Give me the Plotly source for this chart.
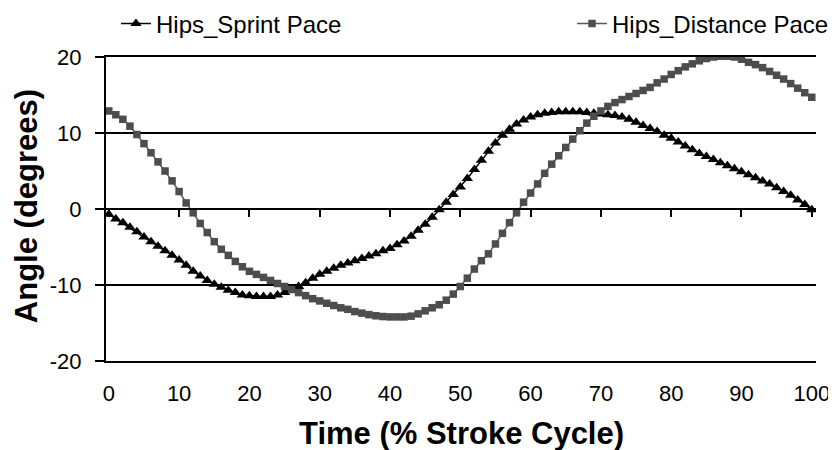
import plotly.graph_objects as go

time_pct = list(range(0, 101))

sprint_pace = [
    -0.7, -1.3, -1.8, -2.4, -3.0, -3.7, -4.3, -4.9, -5.5, -6.1,
    -6.7, -7.4, -8.2, -8.8, -9.4, -9.9, -10.3, -10.7, -11.0, -11.3,
    -11.4, -11.5, -11.5, -11.5, -11.3, -11.0, -10.6, -10.2, -9.7, -9.1,
    -8.6, -8.2, -7.8, -7.4, -7.1, -6.8, -6.5, -6.2, -5.9, -5.5,
    -5.2, -4.7, -4.2, -3.6, -2.8, -2.0, -1.1, -0.1, 0.9, 1.9,
    2.9, 4.0, 5.2, 6.4, 7.6, 8.7, 9.7, 10.5, 11.2, 11.7,
    12.1, 12.4, 12.6, 12.7, 12.8, 12.8, 12.8, 12.8, 12.7, 12.6,
    12.5, 12.4, 12.3, 12.1, 11.8, 11.4, 11.0, 10.6, 10.2, 9.7,
    9.3, 8.8, 8.3, 7.8, 7.3, 6.9, 6.5, 6.1, 5.7, 5.3,
    4.9, 4.5, 4.1, 3.7, 3.3, 2.8, 2.3, 1.8, 1.2, 0.6,
    -0.1,
]

distance_pace = [
    12.9, 12.4, 11.8, 10.9, 9.8, 8.6, 7.4, 6.2, 5.0, 3.7,
    2.3, 0.8, -0.5, -1.9, -3.1, -4.3, -5.3, -6.1, -6.9, -7.6,
    -8.2, -8.6, -9.0, -9.4, -9.8, -10.2, -10.6, -11.0, -11.4, -11.8,
    -12.1, -12.4, -12.7, -13.0, -13.2, -13.5, -13.7, -13.9, -14.05, -14.15,
    -14.2, -14.2, -14.2, -14.1, -13.8, -13.4, -13.0, -12.6, -12.0, -11.2,
    -10.2, -9.1, -7.9, -6.8, -5.9, -4.6, -3.2, -1.8, -0.5, 0.9,
    2.1, 3.3, 4.7, 5.9, 7.0, 8.1, 9.2, 10.3, 11.3, 12.2,
    12.9, 13.5, 14.0, 14.4, 14.8, 15.2, 15.6, 16.0, 16.6, 17.1,
    17.7, 18.2, 18.7, 19.1, 19.5, 19.8, 20.0, 20.1, 20.1, 20.0,
    19.7, 19.3, 19.0, 18.6, 18.1, 17.6, 17.1, 16.5, 15.9, 15.3,
    14.7,
]

x_ticks = [0, 10, 20, 30, 40, 50, 60, 70, 80, 90, 100]
y_ticks = [-20, -10, 0, 10, 20]
y_tick_labels = ["-20", "-10", "0", "10", "20"]

FONT = "Arial, Liberation Sans, sans-serif"

fig = go.Figure()
fig.add_trace(go.Scatter(
    x=time_pct, y=sprint_pace, name="Hips_Sprint Pace",
    mode="lines+markers", xaxis="x", yaxis="y", legend="legend",
    showlegend=True,
    line=dict(color="black", width=1.5),
    marker=dict(symbol="triangle-up", size=10, color="black"),
))
fig.add_trace(go.Scatter(
    x=time_pct, y=distance_pace, name="Hips_Distance Pace",
    mode="lines+markers", xaxis="x2", yaxis="y", legend="legend2",
    showlegend=True,
    line=dict(color="#5a5a5a", width=1.5),
    marker=dict(symbol="square", size=7.5, color="#4d4d4d"),
))

xr = [-0.4, 100.6]
fig.update_layout(
    template="none",
    width=828, height=442,
    margin=dict(l=98, r=20, t=49, b=89),
    paper_bgcolor="white", plot_bgcolor="white",
    font=dict(family=FONT, color="black", size=22),
    showlegend=True,
    xaxis=dict(
        range=xr, tickvals=x_ticks, showgrid=False, zeroline=False,
        showline=True, mirror=True, linecolor="black", linewidth=2,
        ticks="", ticklabelstandoff=12, automargin=False,
        tickfont=dict(size=22, family=FONT, color="black"),
    ),
    xaxis2=dict(
        range=xr, overlaying="x", anchor="free", position=0.5, side="bottom",
        tickvals=x_ticks, showticklabels=False, showgrid=False, zeroline=False,
        showline=True, linecolor="black", linewidth=2, automargin=False,
        ticks="outside", ticklen=7, tickwidth=2, tickcolor="black",
    ),
    yaxis=dict(
        range=[-20, 20], tickvals=y_ticks, ticktext=y_tick_labels,
        showgrid=True, gridcolor="black",
        gridwidth=2, zeroline=False, showline=True, linecolor="black",
        linewidth=2, ticks="outside", ticklen=9, tickwidth=2, tickcolor="black",
        ticklabelstandoff=9, automargin=False,
        tickfont=dict(size=22, family=FONT, color="black"),
    ),
    legend=dict(
        xref="container", yref="container",
        x=0.1304, y=0.9638, xanchor="left", yanchor="middle",
        orientation="h", font=dict(size=24, family=FONT, color="black"),
        bgcolor="rgba(0,0,0,0)", borderwidth=0,
    ),
    legend2=dict(
        xref="container", yref="container",
        x=0.9976, y=0.9638, xanchor="right", yanchor="middle",
        orientation="h", font=dict(size=24, family=FONT, color="black"),
        bgcolor="rgba(0,0,0,0)", borderwidth=0,
    ),
    annotations=[
        dict(text="<b>Time (% Stroke Cycle)</b>", xref="paper", yref="paper",
             x=0.5, y=-0.2385, xanchor="center", yanchor="middle",
             showarrow=False, font=dict(size=31, family=FONT, color="black")),
        dict(text="<b>Angle (degrees)</b>", xref="paper", yref="paper",
             x=-0.111, y=0.51, xanchor="center", yanchor="middle", textangle=-90,
             showarrow=False, font=dict(size=31, family=FONT, color="black")),
    ],
)

fig.write_html("out.html")
